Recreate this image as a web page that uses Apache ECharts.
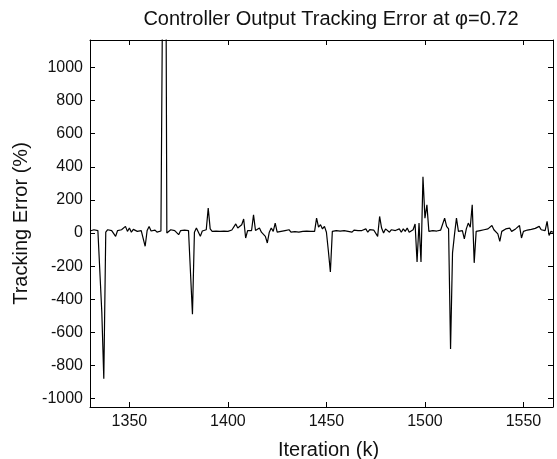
<!DOCTYPE html>
<html>
<head>
<meta charset="utf-8">
<script src="https://cdn.jsdelivr.net/npm/echarts@6/dist/echarts.min.js"></script>
<style>
html,body{margin:0;padding:0;background:#fff;}
#chart{width:557px;height:459px;}
</style>
</head>
<body>
<div id="chart"></div>
<script>
// Iterations 1330 .. 1565
const startIteration = 1330;
const trackingError = [
  12, 10, 20, 25, 15, 18, -480, -880, 5, 20,          // 1330-1339
  10, 15, 25, -20, 15, 12, 20, 18, 40, 10,            // 1340-1349
  30, 5, 22, 15, 10, 18, 15, 20, -80, 15,             // 1350-1359
  40, 12, 20, 18, 5, 15, 12, 15, 3500, 0,             // 1360-1369
  12, 20, 8, 15, 5, -10, 15, 10, 18, 20,              // 1370-1379
  15, 5, -490, 5, 30, 40, -20, 12, 15, 20,            // 1380-1389
  150, 25, 10, 15, 12, 0, 10, 15, 12, 20,             // 1390-1399
  10, 15, 18, 25, 55, 30, 35, 50, 85, -30,            // 1400-1409
  15, 20, 15, 110, 15, 12, 30, 5, 10, -20,            // 1410-1419
  -60, 5, 30, 10, 60, 5, 0, 10, 12, 15,               // 1420-1429
  12, 20, 5, 15, 8, 20, 5, 15, 10, 20,                // 1430-1439
  12, 15, 10, 18, 10, 90, 35, 50, 25, 40,             // 1440-1449
  5, -110, -235, 10, 20, 15, 5, 12, 18, 15,           // 1450-1459
  20, 10, 15, 5, 18, 10, 15, 20, 15, 22,              // 1460-1469
  25, 5, 20, 10, 18, 15, -20, 100, 30, 0,             // 1470-1479
  25, 15, 5, 20, 10, 15, 20, 25, 5, 25,               // 1480-1489
  10, 30, 5, 15, 20, 55, -175, 60, -175, 340,         // 1490-1499
  90, 170, 10, 20, 15, 15, 12, 15, 18, 20,            // 1500-1509
  90, 40, 25, -700, -120, -10, 90, 10, 20, 15,        // 1510-1519
  -35, 25, 60, 35, 170, -180, 10, 5, 15, 12,          // 1520-1529
  20, 18, 25, 30, 45, 20, 15, -5, -50, 10,            // 1530-1539
  15, 25, 15, 30, 10, 20, 25, 15, 45, -30,            // 1540-1549
  10, 15, 18, 20, 22, 25, 28, 30, 40, 20,             // 1550-1559
  10, 15, 70, -15, 10, 5                              // 1560-1565
];
const iterations = trackingError.map((_, i) => startIteration + i);
const xRange = [1330, 1565];
const yRange = [-1050, 1165];
const titleText = 'Controller Output Tracking Error at \u03C6=0.72';
const xName = 'Iteration (k)';
const yName = 'Tracking Error (%)';

const seriesData = iterations.map((k, i) => [k, trackingError[i]]);
const font = '"Liberation Sans", Arial, Helvetica, sans-serif';
const axisColor = '#000';
const textColor = '#111';
const plain = v => String(v);

const chart = echarts.init(document.getElementById('chart'), null, {renderer: 'canvas'});
const commonAxis = {
  axisLine: {show: true, onZero: false, lineStyle: {color: axisColor, width: 1}},
  axisTick: {show: true, inside: true, length: 5, lineStyle: {color: axisColor, width: 1}},
  splitLine: {show: false}
};
chart.setOption({
  animation: false,
  backgroundColor: '#fff',
  title: {
    text: titleText,
    left: 326, top: 4, textAlign: 'center',
    textStyle: {fontFamily: font, fontSize: 20, fontWeight: 'normal', color: textColor}
  },
  grid: {left: 90, right: 4, top: 40, bottom: 52, containLabel: false, outerBoundsMode: 'none'},
  xAxis: [
    Object.assign({}, commonAxis, {
      type: 'value', position: 'bottom', min: xRange[0], max: xRange[1], splitNumber: 5,
      name: xName, nameLocation: 'middle', nameGap: 33,
      nameTextStyle: {fontFamily: font, fontSize: 20, color: textColor, padding: [0, 0, 0, 14]},
      axisLabel: {show: true, showMinLabel: false, showMaxLabel: false, margin: 7,
        fontFamily: font, fontSize: 16, color: textColor, formatter: plain}
    }),
    Object.assign({}, commonAxis, {
      type: 'value', position: 'top', min: xRange[0], max: xRange[1], splitNumber: 5,
      axisLabel: {show: false}
    })
  ],
  yAxis: [
    Object.assign({}, commonAxis, {
      type: 'value', position: 'left', min: yRange[0], max: yRange[1], splitNumber: 11,
      name: yName, nameLocation: 'middle', nameGap: 56, nameRotate: 90,
      nameTextStyle: {fontFamily: font, fontSize: 20, color: textColor},
      axisLabel: {show: true, showMinLabel: false, showMaxLabel: false, margin: 7,
        fontFamily: font, fontSize: 16, color: textColor, formatter: plain}
    }),
    Object.assign({}, commonAxis, {
      type: 'value', position: 'right', min: yRange[0], max: yRange[1], splitNumber: 11,
      axisLabel: {show: false}
    })
  ],
  series: [{
    type: 'line',
    xAxisIndex: 0, yAxisIndex: 0,
    data: seriesData,
    showSymbol: false,
    symbol: 'none',
    clip: true,
    lineStyle: {color: '#000', width: 1.2},
    silent: true
  }]
});
</script>
</body>
</html>
